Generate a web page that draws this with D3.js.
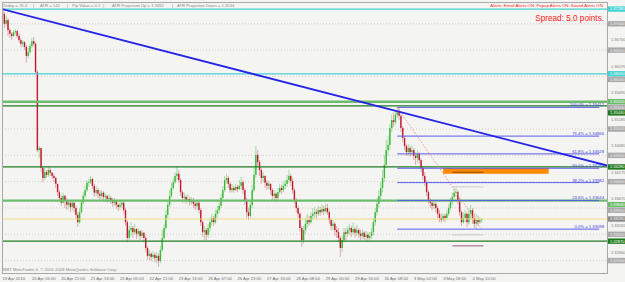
<!DOCTYPE html>
<html>
<head>
<meta charset="utf-8">
<script src="https://cdn.jsdelivr.net/npm/d3@7/dist/d3.min.js"></script>
<style>
  body { margin: 0; background: #f4f5f2; }
  svg { display: block; font-family: "Liberation Sans", Arial, sans-serif; }
</style>
</head>
<body>
<svg id="chart" width="625" height="282"></svg>
<script>
// ---- data (EURUSD H1, 19 Apr - 4 May 2010) ----
const firstOpen = 1.3724;
const closes = [
  1.3719,1.3700,1.3707,1.3688,1.3681,1.3677,1.3684,1.3686,1.3677,1.3669,
  1.3662,1.3665,1.3656,1.3639,1.3646,1.3658,1.3667,1.3662,1.3608,1.3460,
  1.3464,1.3426,1.3407,1.3418,1.3413,1.3422,1.3417,1.3411,1.3407,1.3396,
  1.3380,1.3369,1.3360,1.3373,1.3365,1.3356,1.3360,1.3352,1.3360,1.3350,
  1.3337,1.3323,1.3342,1.3360,1.3373,1.3384,1.3398,1.3399,1.3405,1.3392,
  1.3379,1.3384,1.3377,1.3373,1.3379,1.3371,1.3373,1.3367,1.3369,1.3365,
  1.3360,1.3363,1.3356,1.3352,1.3356,1.3360,1.3346,1.3323,1.3293,1.3308,
  1.3312,1.3304,1.3310,1.3301,1.3306,1.3297,1.3303,1.3293,1.3274,1.3259,
  1.3263,1.3257,1.3261,1.3255,1.3259,1.3249,1.3270,1.3293,1.3312,1.3337,
  1.3356,1.3373,1.3388,1.3399,1.3411,1.3415,1.3403,1.3380,1.3369,1.3371,
  1.3365,1.3367,1.3361,1.3365,1.3358,1.3354,1.3360,1.3346,1.3323,1.3304,
  1.3308,1.3299,1.3312,1.3323,1.3331,1.3323,1.3339,1.3346,1.3354,1.3369,
  1.3384,1.3403,1.3407,1.3396,1.3384,1.3388,1.3384,1.3390,1.3386,1.3392,
  1.3399,1.3384,1.3365,1.3342,1.3335,1.3356,1.3384,1.3413,1.3451,1.3437,
  1.3422,1.3407,1.3411,1.3398,1.3392,1.3396,1.3384,1.3373,1.3377,1.3369,
  1.3380,1.3388,1.3384,1.3392,1.3396,1.3403,1.3411,1.3401,1.3384,1.3365,
  1.3350,1.3339,1.3312,1.3289,1.3308,1.3320,1.3327,1.3323,1.3335,1.3339,
  1.3342,1.3339,1.3346,1.3342,1.3348,1.3344,1.3350,1.3342,1.3327,1.3316,
  1.3320,1.3308,1.3304,1.3293,1.3274,1.3289,1.3304,1.3301,1.3308,1.3312,
  1.3304,1.3310,1.3303,1.3308,1.3301,1.3297,1.3303,1.3295,1.3299,1.3293,
  1.3297,1.3304,1.3323,1.3342,1.3358,1.3373,1.3388,1.3407,1.3432,1.3460,
  1.3470,1.3502,1.3517,1.3513,1.3527,1.3532,1.3525,1.3502,1.3483,1.3468,
  1.3456,1.3464,1.3456,1.3460,1.3449,1.3445,1.3453,1.3441,1.3426,1.3411,
  1.3399,1.3380,1.3365,1.3360,1.3354,1.3358,1.3350,1.3339,1.3331,1.3327,
  1.3335,1.3331,1.3339,1.3350,1.3361,1.3371,1.3379,1.3380,1.3365,1.3342,
  1.3323,1.3331,1.3339,1.3323,1.3339,1.3346,1.3331,1.3320,1.3327,1.3323,
  1.3327,1.3329
];
const highs = [
  1.3726,1.3722,1.3715,1.3711,1.3692,1.3684,1.3688,1.3690,1.3688,1.3681,
  1.3673,1.3669,1.3667,1.3660,1.3654,1.3662,1.3673,1.3675,1.3665,1.3612,
  1.3468,1.3460,1.3430,1.3426,1.3422,1.3428,1.3426,1.3418,1.3415,1.3409,
  1.3396,1.3384,1.3373,1.3379,1.3375,1.3369,1.3365,1.3361,1.3363,1.3361,
  1.3354,1.3342,1.3350,1.3365,1.3380,1.3392,1.3403,1.3405,1.3411,1.3407,
  1.3396,1.3392,1.3388,1.3384,1.3384,1.3382,1.3379,1.3375,1.3377,1.3373,
  1.3369,1.3369,1.3365,1.3360,1.3363,1.3365,1.3361,1.3350,1.3327,1.3316,
  1.3323,1.3316,1.3320,1.3312,1.3312,1.3308,1.3308,1.3304,1.3297,1.3278,
  1.3270,1.3266,1.3268,1.3265,1.3266,1.3263,1.3278,1.3308,1.3320,1.3346,
  1.3365,1.3384,1.3398,1.3407,1.3418,1.3428,1.3422,1.3407,1.3384,1.3379,
  1.3375,1.3375,1.3371,1.3371,1.3369,1.3365,1.3365,1.3361,1.3350,1.3327,
  1.3316,1.3312,1.3320,1.3331,1.3339,1.3335,1.3346,1.3354,1.3361,1.3377,
  1.3392,1.3411,1.3415,1.3411,1.3399,1.3396,1.3392,1.3396,1.3394,1.3403,
  1.3409,1.3403,1.3388,1.3369,1.3350,1.3365,1.3394,1.3426,1.3468,1.3460,
  1.3441,1.3426,1.3418,1.3411,1.3403,1.3401,1.3396,1.3388,1.3384,1.3380,
  1.3388,1.3396,1.3394,1.3399,1.3403,1.3413,1.3422,1.3415,1.3407,1.3388,
  1.3369,1.3354,1.3342,1.3316,1.3316,1.3331,1.3339,1.3335,1.3342,1.3350,
  1.3352,1.3348,1.3354,1.3352,1.3356,1.3354,1.3358,1.3358,1.3346,1.3331,
  1.3327,1.3323,1.3316,1.3312,1.3297,1.3297,1.3312,1.3312,1.3316,1.3320,
  1.3316,1.3322,1.3314,1.3318,1.3312,1.3308,1.3310,1.3306,1.3306,1.3304,
  1.3304,1.3312,1.3331,1.3350,1.3369,1.3384,1.3399,1.3422,1.3451,1.3479,
  1.3487,1.3510,1.3527,1.3531,1.3536,1.3541,1.3541,1.3529,1.3506,1.3487,
  1.3472,1.3472,1.3468,1.3468,1.3464,1.3456,1.3460,1.3456,1.3445,1.3430,
  1.3418,1.3403,1.3384,1.3369,1.3365,1.3365,1.3361,1.3354,1.3346,1.3339,
  1.3340,1.3339,1.3346,1.3358,1.3369,1.3379,1.3386,1.3388,1.3384,1.3369,
  1.3346,1.3342,1.3346,1.3342,1.3350,1.3356,1.3350,1.3339,1.3339,1.3335,
  1.3333,1.3331
];
const lows = [
  1.3711,1.3692,1.3696,1.3677,1.3673,1.3669,1.3675,1.3679,1.3673,1.3664,
  1.3656,1.3656,1.3650,1.3626,1.3635,1.3643,1.3654,1.3656,1.3605,1.3456,
  1.3445,1.3418,1.3399,1.3403,1.3407,1.3409,1.3411,1.3405,1.3399,1.3388,
  1.3373,1.3365,1.3354,1.3358,1.3350,1.3346,1.3348,1.3342,1.3346,1.3342,
  1.3329,1.3314,1.3320,1.3339,1.3356,1.3369,1.3380,1.3390,1.3396,1.3386,
  1.3371,1.3373,1.3369,1.3365,1.3367,1.3363,1.3361,1.3360,1.3361,1.3358,
  1.3352,1.3354,1.3348,1.3344,1.3346,1.3350,1.3339,1.3316,1.3285,1.3289,
  1.3297,1.3293,1.3299,1.3291,1.3295,1.3289,1.3293,1.3285,1.3266,1.3251,
  1.3251,1.3249,1.3253,1.3247,1.3245,1.3238,1.3245,1.3266,1.3289,1.3308,
  1.3331,1.3352,1.3369,1.3384,1.3396,1.3403,1.3398,1.3373,1.3360,1.3361,
  1.3358,1.3360,1.3354,1.3356,1.3350,1.3346,1.3348,1.3339,1.3316,1.3295,
  1.3289,1.3289,1.3293,1.3304,1.3316,1.3316,1.3320,1.3331,1.3339,1.3350,
  1.3365,1.3380,1.3396,1.3388,1.3379,1.3380,1.3379,1.3382,1.3380,1.3384,
  1.3386,1.3377,1.3356,1.3331,1.3327,1.3331,1.3350,1.3380,1.3407,1.3430,
  1.3411,1.3396,1.3399,1.3388,1.3384,1.3386,1.3375,1.3365,1.3365,1.3361,
  1.3365,1.3377,1.3377,1.3380,1.3386,1.3390,1.3398,1.3392,1.3377,1.3358,
  1.3342,1.3331,1.3304,1.3276,1.3282,1.3301,1.3312,1.3316,1.3320,1.3327,
  1.3331,1.3329,1.3335,1.3335,1.3339,1.3337,1.3340,1.3337,1.3320,1.3308,
  1.3308,1.3297,1.3293,1.3285,1.3257,1.3266,1.3285,1.3289,1.3295,1.3299,
  1.3295,1.3299,1.3293,1.3297,1.3293,1.3289,1.3291,1.3289,1.3289,1.3287,
  1.3289,1.3291,1.3297,1.3316,1.3335,1.3350,1.3365,1.3380,1.3399,1.3426,
  1.3449,1.3460,1.3494,1.3504,1.3508,1.3521,1.3517,1.3494,1.3475,1.3460,
  1.3449,1.3449,1.3447,1.3449,1.3441,1.3432,1.3437,1.3434,1.3418,1.3403,
  1.3392,1.3373,1.3358,1.3350,1.3346,1.3348,1.3342,1.3331,1.3323,1.3322,
  1.3325,1.3323,1.3327,1.3335,1.3346,1.3356,1.3367,1.3371,1.3358,1.3335,
  1.3316,1.3320,1.3323,1.3314,1.3318,1.3327,1.3320,1.3312,1.3310,1.3316,
  1.3320,1.3322
];

// time axis: one label every 16 bars
const timeLabels = ['19 Apr 2010', '20 Apr 05:00', '20 Apr 21:00', '21 Apr 13:00', '22 Apr 05:00',
  '22 Apr 21:00', '23 Apr 13:00', '26 Apr 07:00', '26 Apr 23:00', '27 Apr 15:00', '28 Apr 08:00',
  '29 Apr 00:00', '29 Apr 16:00', '30 Apr 08:00', '3 May 02:00', '3 May 18:00', '4 May 10:00'];
const labelStep = 16;

// horizontal objects
const cyanLevels = [1.3728, 1.3605];
const lightGreenLevels = [1.3552, 1.3364];
const darkGreenLevels = [1.3544, 1.3428, 1.3287];
const bidLevel = 1.3329;
const roundLevels = [1.3700, 1.3650, 1.3600, 1.3550, 1.3500, 1.3450, 1.3400, 1.3350, 1.3300, 1.3250];
const gridLabels = [1.36700, 1.36195, 1.35690, 1.35185, 1.34680, 1.34175, 1.33670, 1.33165, 1.32660];

// fibonacci retracement and trend line
const fibRatios = [0, 0.236, 0.382, 0.5, 0.618, 0.764, 1];
const fibHigh = { bar: 215, price: 1.35412 };
const fibLow = { bar: 261, price: 1.33098 };
const fibEndBar = 325;
const trendLine = [{ bar: -0.3, price: 1.3728 }, { bar: 330, price: 1.3430 }];

// orange zone and short lines near the last bars
const zone = { bar0: 240, bar1: 297.5, top: 1.3426, bottom: 1.3415 };
const zoneLine = { bar0: 245, bar1: 262, price: 1.3418 };
const grayShort = [{ bar0: 245, bar1: 262, price: 1.3390 }, { bar0: 245, bar1: 262, price: 1.3299 }];
const purpleShort = { bar0: 245, bar1: 262, price: 1.3278 };

// header texts
const infoItems = ['Today = 76.4', '|', 'ATR = 142', '|', 'Pip Value = 0.1', '|',
  'ATR Projection Up = 1.3452', '|', 'ATR Projection Down = 1.3244'];
const alertsText = 'Alerts:  Email Alerts ON.  Popup Alerts ON.  Sound Alerts ON.';
const spreadText = 'Spread: 5.0 points.';
const copyrightText = 'MBT MetaTrader 4, \u00a9 2001-2008 MetaQuotes Software Corp.';

// ---- drawing ----
const svg = d3.select('#chart');
const width = +svg.attr('width');
const height = +svg.attr('height');
const plot = { left: 2, right: 607, top: 2, bottom: 273 };

const x = d3.scaleLinear().domain([0, 256]).range([2.5, 472.5]);
const y = d3.scaleLinear().domain([1.3250, 1.3700]).range([260.6, 23.8]);

svg.append('rect').attr('width', width).attr('height', height).attr('fill', '#f4f5f2');

svg.append('clipPath').attr('id', 'plotclip')
  .append('rect')
  .attr('x', plot.left).attr('y', plot.top)
  .attr('width', plot.right - plot.left).attr('height', plot.bottom - plot.top);

const g = svg.append('g').attr('clip-path', 'url(#plotclip)');

// round number levels (dotted)
g.selectAll('.round').data(roundLevels).enter().append('line')
  .attr('x1', plot.left).attr('x2', plot.right)
  .attr('y1', d => y(d)).attr('y2', d => y(d))
  .attr('stroke', '#d4bcbc').attr('stroke-width', 0.8)
  .attr('stroke-dasharray', '1,2');

// orange zone
g.append('rect')
  .attr('x', x(zone.bar0)).attr('width', x(zone.bar1) - x(zone.bar0))
  .attr('y', y(zone.top)).attr('height', y(zone.bottom) - y(zone.top))
  .attr('fill', '#ff8c00');
g.append('line')
  .attr('x1', x(zoneLine.bar0)).attr('x2', x(zoneLine.bar1))
  .attr('y1', y(zoneLine.price)).attr('y2', y(zoneLine.price))
  .attr('stroke', '#8a4a10').attr('stroke-width', 1);

// candles
const candles = closes.map((c, i) => {
  const o = i === 0 ? firstOpen : closes[i - 1];
  return { i, o, c, h: Math.max(highs[i], o, c), l: Math.min(lows[i], o, c) };
});

const cg = g.append('g');
cg.selectAll('.wick').data(candles).enter().append('line')
  .attr('x1', d => x(d.i)).attr('x2', d => x(d.i))
  .attr('y1', d => y(d.h)).attr('y2', d => y(d.l))
  .attr('stroke', d => d.c >= d.o ? '#8fd68f' : '#d9949c')
  .attr('stroke-width', 0.8);
cg.selectAll('.body').data(candles).enter().append('rect')
  .attr('x', d => x(d.i) - 0.7)
  .attr('width', 1.4)
  .attr('y', d => y(Math.max(d.o, d.c)))
  .attr('height', d => Math.max(0.8, Math.abs(y(d.o) - y(d.c))))
  .attr('fill', d => d.c >= d.o ? '#34b834' : '#c0182c');

// horizontal lines
g.selectAll('.cyan').data(cyanLevels).enter().append('line')
  .attr('x1', plot.left).attr('x2', plot.right)
  .attr('y1', d => y(d)).attr('y2', d => y(d))
  .attr('stroke', '#45d2d2').attr('stroke-width', 1.2);
g.selectAll('.lgreen').data(lightGreenLevels).enter().append('line')
  .attr('x1', plot.left).attr('x2', plot.right)
  .attr('y1', d => y(d)).attr('y2', d => y(d))
  .attr('stroke', '#6cbc6c').attr('stroke-width', 2.4);
g.selectAll('.dgreen').data(darkGreenLevels).enter().append('line')
  .attr('x1', plot.left).attr('x2', plot.right)
  .attr('y1', d => y(d)).attr('y2', d => y(d))
  .attr('stroke', '#1f7a1f').attr('stroke-width', 1.3);
g.append('line')
  .attr('x1', plot.left).attr('x2', plot.right)
  .attr('y1', y(bidLevel)).attr('y2', y(bidLevel))
  .attr('stroke', '#f2dc8a').attr('stroke-width', 1);

g.selectAll('.gshort').data(grayShort).enter().append('line')
  .attr('x1', d => x(d.bar0)).attr('x2', d => x(d.bar1))
  .attr('y1', d => y(d.price)).attr('y2', d => y(d.price))
  .attr('stroke', '#c8c8c8').attr('stroke-width', 1);
g.append('line')
  .attr('x1', x(purpleShort.bar0)).attr('x2', x(purpleShort.bar1))
  .attr('y1', y(purpleShort.price)).attr('y2', y(purpleShort.price))
  .attr('stroke', '#9a5a7a').attr('stroke-width', 1);

// fibonacci
const fibRange = fibHigh.price - fibLow.price;
const fibs = fibRatios.map(r => ({ r, price: fibLow.price + r * fibRange }));
g.selectAll('.fib').data(fibs).enter().append('line')
  .attr('x1', x(fibHigh.bar)).attr('x2', x(fibEndBar))
  .attr('y1', d => y(d.price)).attr('y2', d => y(d.price))
  .attr('stroke', '#5a5af0').attr('stroke-width', 1);
g.selectAll('.fibtxt').data(fibs).enter().append('text')
  .attr('x', 604).attr('y', d => y(d.price) - 1)
  .attr('text-anchor', 'end')
  .attr('font-size', 4.2).attr('fill', '#4040e0')
  .text(d => (d.r * 100).toFixed(1) + '% = ' + d.price.toFixed(5));
g.append('line')
  .attr('x1', x(fibHigh.bar)).attr('y1', y(fibHigh.price))
  .attr('x2', x(fibLow.bar)).attr('y2', y(fibLow.price))
  .attr('stroke', '#f08a8a').attr('stroke-width', 0.9)
  .attr('stroke-dasharray', '1.5,1.5');

// trend line
g.append('line')
  .attr('x1', x(trendLine[0].bar)).attr('y1', y(trendLine[0].price))
  .attr('x2', x(trendLine[1].bar)).attr('y2', y(trendLine[1].price))
  .attr('stroke', '#2323e6').attr('stroke-width', 1.8);

// frame
svg.append('rect')
  .attr('x', plot.left + 0.5).attr('y', plot.top + 0.5)
  .attr('width', plot.right - plot.left).attr('height', plot.bottom - plot.top)
  .attr('fill', 'none').attr('stroke', '#a8a8a8').attr('stroke-width', 1);

// price axis labels: boxes for line objects, plain text for the grid,
// pushed apart so that none of them sit on top of each other
const labels = [];
gridLabels.forEach(p => labels.push({ p, bg: null, fg: '#7a7a7a' }));
roundLevels.forEach(p => labels.push({ p, bg: '#a9a9a9', fg: '#eeeeee' }));
cyanLevels.forEach(p => labels.push({ p, bg: '#45d2d2', fg: '#ffffff' }));
lightGreenLevels.forEach(p => labels.push({ p, bg: '#6cbc6c', fg: '#ffffff' }));
darkGreenLevels.forEach(p => labels.push({ p, bg: '#1f7a1f', fg: '#ffffff' }));
labels.push({ p: bidLevel, bg: '#8c8c8c', fg: '#ffffff' });

labels.forEach(d => { d.ly = y(d.p); });
labels.sort((a, b) => a.ly - b.ly);
const gap = 5.6;
for (let k = 1; k < labels.length; k++) {
  if (labels[k].ly < labels[k - 1].ly + gap) labels[k].ly = labels[k - 1].ly + gap;
}
// keep the stack inside the picture
const overflow = labels[labels.length - 1].ly - 279;
if (overflow > 0) {
  labels[labels.length - 1].ly -= overflow;
  for (let k = labels.length - 2; k >= 0; k--) {
    if (labels[k].ly > labels[k + 1].ly - gap) labels[k].ly = labels[k + 1].ly - gap;
  }
}

const ax = svg.append('g').attr('font-size', 4);
const lb = ax.selectAll('.lab').data(labels).enter().append('g')
  .attr('transform', d => 'translate(608,' + d.ly + ')');
lb.filter(d => d.bg).append('rect')
  .attr('x', 0).attr('y', -2.7).attr('width', 17).attr('height', 5.4)
  .attr('fill', d => d.bg);
lb.append('text').attr('x', d => d.bg ? 2 : 3).attr('y', 1.4).attr('fill', d => d.fg)
  .text(d => d.p.toFixed(5));

// time axis labels
svg.selectAll('.tl').data(timeLabels).enter().append('text')
  .attr('x', (d, i) => x(i * labelStep))
  .attr('y', 279.5)
  .attr('font-size', 4.2).attr('fill', '#707070')
  .text(d => d);

// header and footer texts
const infoX = [3, 33, 40, 67, 72, 103, 112, 172, 177];
svg.selectAll('.info').data(infoItems).enter().append('text')
  .attr('x', (d, i) => infoX[i]).attr('y', 7)
  .attr('font-size', 4.2).attr('fill', '#8a8a8a')
  .text(d => d);

svg.append('text')
  .attr('x', 604).attr('y', 7.3).attr('text-anchor', 'end')
  .attr('font-size', 4.3).attr('fill', '#ff2a2a')
  .text(alertsText);

svg.append('text')
  .attr('x', 604).attr('y', 20.5).attr('text-anchor', 'end')
  .attr('font-size', 8.2).attr('fill', '#ff2020')
  .text(spreadText);

svg.append('text')
  .attr('x', 3).attr('y', 271)
  .attr('font-size', 4.2).attr('fill', '#8a8a8a')
  .text(copyrightText);
</script>
</body>
</html>
